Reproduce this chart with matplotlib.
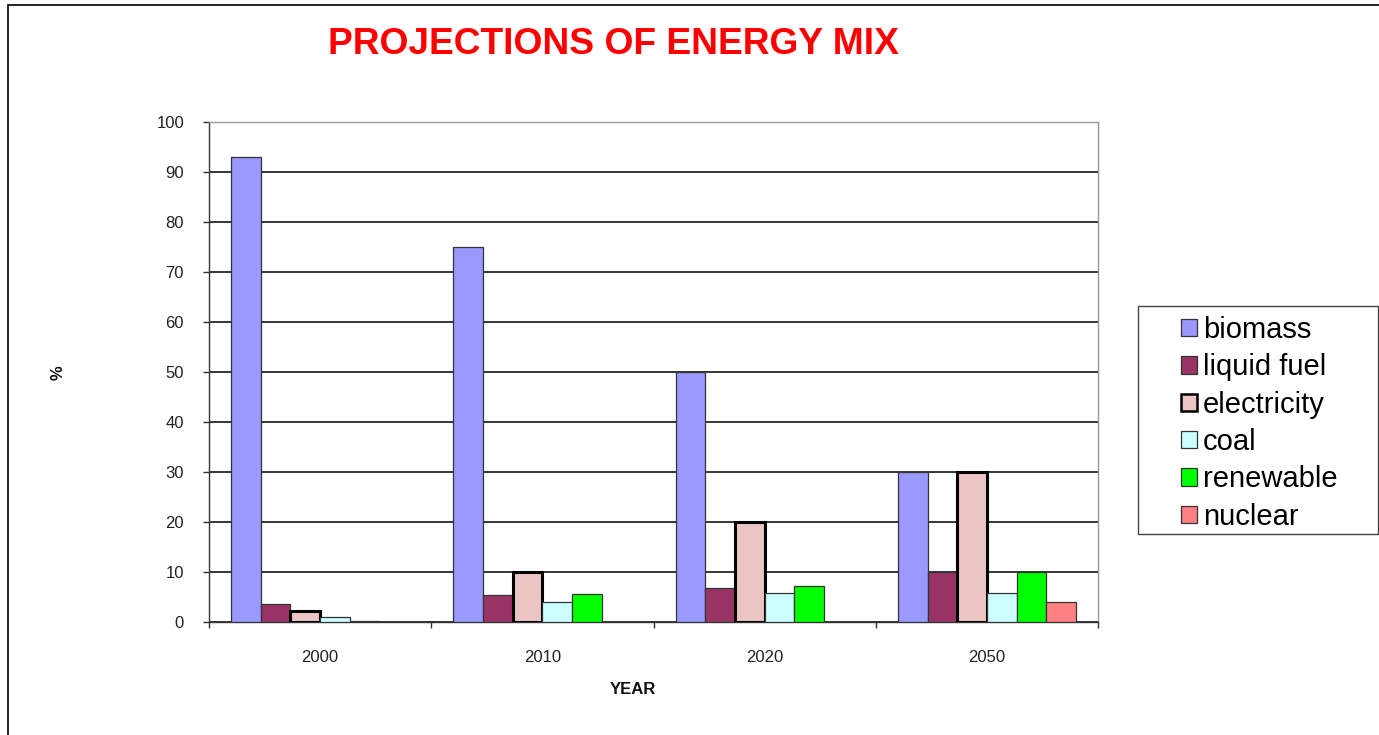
import matplotlib
matplotlib.use("Agg")
import matplotlib.pyplot as plt
from matplotlib.patches import Rectangle, Patch
import numpy as np

plt.rcParams['font.family'] = ['Liberation Sans', 'DejaVu Sans']

years = ["2000", "2010", "2020", "2050"]
series = ["biomass", "liquid fuel", "electricity", "coal", "renewable", "nuclear"]
biomass = [93, 75, 50, 30]
liquid_fuel = [3.6, 5.4, 6.9, 10]
electricity = [2.2, 10, 20, 30]
coal = [1.0, 4.1, 5.9, 5.8]
renewable = [0.3, 5.7, 7.2, 10]
nuclear = [0, 0, 0, 4.1]
values = [biomass, liquid_fuel, electricity, coal, renewable, nuclear]
colors = ["#9999FF", "#993366", "#EBC4C4", "#CCFFFF", "#00FF00", "#FF8080"]

W, H = 1379, 735
fig = plt.figure(figsize=(W / 100, H / 100), dpi=100)

# outer chart frame
fig.patches.append(Rectangle((8 / W, -0.05), 1.2, 1 - 5 / H + 0.05,
                             transform=fig.transFigure, fill=False,
                             edgecolor="black", linewidth=1.2))

ax = fig.add_axes([209 / W, (H - 622) / H, (1098 - 209) / W, 500 / H])

x = np.arange(len(years))
bw = 0.8 / len(series)
for i, (name, vals, c) in enumerate(zip(series, values, colors)):
    pos = x + (i - (len(series) - 1) / 2) * bw
    if name == "electricity":
        ax.bar(pos, vals, width=bw, color=c, edgecolor="black", linewidth=2.2, zorder=3)
    else:
        ax.bar(pos, vals, width=bw, color=c, edgecolor="#333333", linewidth=0.9, zorder=3)

ax.set_xlim(-0.5, len(years) - 0.5)
ax.set_ylim(0, 100)
ax.set_yticks(np.arange(0, 101, 10))
ax.yaxis.grid(True, color="black", linewidth=1.1, zorder=1)
ax.set_axisbelow(True)

ax.set_xticks(np.arange(-0.5, len(years)), labels=[""] * (len(years) + 1))
ax.set_xticks(x, labels=years, minor=True)
ax.tick_params(axis="x", which="major", direction="out", length=4, width=1, color="#333333")
ax.tick_params(axis="x", which="minor", length=0, pad=20, labelsize=12, labelcolor="#222222")
ax.tick_params(axis="y", direction="out", length=4, width=1, color="#333333",
               labelsize=12, labelcolor="#222222", pad=14)

for s in ["top", "right"]:
    ax.spines[s].set_color("#999999")
    ax.spines[s].set_linewidth(1.0)
for s in ["left", "bottom"]:
    ax.spines[s].set_color("#333333")
    ax.spines[s].set_linewidth(1.0)

fig.text(613 / W, 1 - 44 / H, "PROJECTIONS OF ENERGY MIX", ha="center", va="center",
         fontsize=26.7, fontweight="bold", color="#FF0000")
fig.text(633 / W, 1 - 690 / H, "YEAR", ha="center", va="center",
         fontsize=12, fontweight="bold", color="#111111")
fig.text(58 / W, 1 - 373 / H, "%", ha="center", va="center", rotation=90,
         fontsize=12, fontweight="bold", color="#111111")

# legend box
fig.patches.append(Rectangle((1138 / W, 1 - 534 / H), (1378 - 1138) / W, (534 - 306) / H,
                             transform=fig.transFigure, fill=True, facecolor="white",
                             edgecolor="#444444", linewidth=1.0, zorder=5))
handles = []
for name, c in zip(series, colors):
    lw = 1.8 if name == "electricity" else 0.9
    ec = "black" if name == "electricity" else "#333333"
    handles.append(Patch(facecolor=c, edgecolor=ec, linewidth=lw, label=name))
leg = fig.legend(handles=handles, loc="upper left",
                 bbox_to_anchor=(1181 / W, 1 - 316 / H), frameon=False,
                 fontsize=21, handlelength=0.55, handleheight=0.55,
                 handletextpad=0.2, labelspacing=0.32, borderpad=0, borderaxespad=0)
leg.set_zorder(6)

fig.savefig("out.png", dpi=100, facecolor="white")
